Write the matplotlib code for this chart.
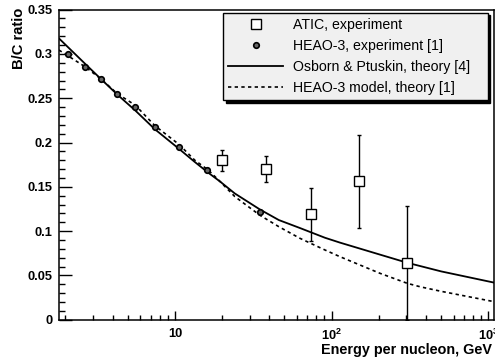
import numpy as np
import matplotlib
matplotlib.use('Agg')
import matplotlib.pyplot as plt
from matplotlib.lines import Line2D
from matplotlib.ticker import FixedLocator, LogLocator, MultipleLocator, FuncFormatter, NullFormatter

plt.rcParams['font.family'] = ['Liberation Sans', 'DejaVu Sans']
plt.rcParams['mathtext.fontset'] = 'custom'
plt.rcParams['mathtext.rm'] = 'Liberation Sans:bold'
plt.rcParams['mathtext.bf'] = 'Liberation Sans:bold'

# ATIC data
atic_e = [19.9, 38.3, 74.2, 148.6, 303]
atic_bc = [0.180, 0.170, 0.119, 0.156, 0.064]
atic_err = [0.012, 0.0145, 0.030, 0.053, 0.064]

# HEAO-3 data
heao_e = [2.07, 2.67, 3.36, 4.3, 5.6, 7.45, 10.6, 16.1, 34.8]
heao_bc = [0.300, 0.2856, 0.2717, 0.2544, 0.2404, 0.2171, 0.1953, 0.169, 0.1216]

# Osborn & Ptuskin theory curve
op_e = [1.82, 2.67, 3.36, 4.3, 5.6, 7.45, 10.6, 13.4, 16.3, 19.4, 24.1, 34.8, 46, 62.7, 90.6, 113,
        203, 303, 500, 1090]
op_bc = [0.3176, 0.289, 0.272, 0.254, 0.236, 0.215, 0.193, 0.178, 0.166, 0.156, 0.1425, 0.1245, 0.1125,
         0.1035, 0.0925, 0.087, 0.0735, 0.0643, 0.0545, 0.0418]

# HEAO-3 model curve
hm_e = [1.82, 2.67, 3.36, 4.3, 5.6, 7.45, 10.6, 13.4, 16.3, 19.4, 24.1, 34.8, 46, 62.7, 90.6, 113,
        203, 303, 366, 500, 1090]
hm_bc = [0.3044, 0.2856, 0.272, 0.255, 0.242, 0.219, 0.198, 0.180, 0.169, 0.156, 0.139, 0.118, 0.105,
         0.0919, 0.0787, 0.0711, 0.0524, 0.0411, 0.0372, 0.032, 0.0203]

fig = plt.figure(figsize=(4.95, 3.57), dpi=100)
ax = fig.add_axes([0.119, 0.1045, 0.8796, 0.8685])

ax.errorbar(atic_e, atic_bc, yerr=atic_err, fmt='s', ms=7, mfc='white', mec='black', mew=1.0,
            ecolor='black', elinewidth=1.0, capsize=1.5, capthick=0.8, zorder=4)
h_heao, = ax.plot(heao_e, heao_bc, 'o', ms=4, mfc='#666666', mec='black', mew=1.2, zorder=5)
h_op, = ax.plot(op_e, op_bc, 'k-', lw=1.3, zorder=3)
h_hm, = ax.plot(hm_e, hm_bc, 'k', lw=1.2, dashes=(2, 2), zorder=3)
# legend shows the square only
h_atic = Line2D([], [], ls='none', marker='s', ms=7, mfc='white', mec='black', mew=1.0)

ax.set_xscale('log')
ax.set_xlim(1.82, 1090)
ax.set_ylim(0, 0.35)

ax.xaxis.set_major_locator(FixedLocator([10, 100, 1000]))
ax.xaxis.set_major_formatter(FuncFormatter(lambda v, p: {10: '10', 100: r'$10^{2}$', 1000: r'$10^{3}$'}.get(int(round(v)), '')))
ax.xaxis.set_minor_locator(LogLocator(base=10, subs=np.arange(2, 10)))
ax.xaxis.set_minor_formatter(NullFormatter())
ax.yaxis.set_major_locator(MultipleLocator(0.05))
ax.yaxis.set_minor_locator(MultipleLocator(0.01))
ax.yaxis.set_major_formatter(FuncFormatter(lambda v, p: '%g' % round(v, 3)))

ax.tick_params(axis='x', which='major', direction='in', length=6.5, width=1.0, pad=6, labelsize=9.3)
ax.tick_params(axis='x', which='minor', direction='in', length=3.6, width=1.0)
ax.tick_params(axis='y', which='major', direction='in', length=9.5, width=1.0, pad=4.5, labelsize=9.3)
ax.tick_params(axis='y', which='minor', direction='in', length=4.5, width=1.0)
for lab in ax.get_xticklabels() + ax.get_yticklabels():
    lab.set_fontweight('bold')
for s in ax.spines.values():
    s.set_linewidth(1.1)

ax.set_xlabel('Energy per nucleon, GeV', fontsize=10.4, fontweight='bold', ha='right')
ax.xaxis.set_label_coords(0.995, -0.075)
ax.set_ylabel('B/C ratio', fontsize=10.6, fontweight='bold', loc='top')
ax.yaxis.set_label_coords(-0.076, 1.005)

leg = ax.legend([h_atic, h_heao, h_op, h_hm],
                ['ATIC, experiment', 'HEAO-3, experiment [1]', 'Osborn & Ptuskin, theory [4]',
                 'HEAO-3 model, theory [1]'],
                loc='upper left', bbox_to_anchor=(0.4505, 0.72, 0.5347, 0.2444),
                bbox_transform=fig.transFigure, mode='expand', fontsize=10.2,
                frameon=True, fancybox=False, framealpha=1, facecolor='#f0f0f0', edgecolor='black',
                shadow={'color': 'black', 'alpha': 1}, borderpad=0.35, labelspacing=0.5,
                handlelength=3.9, handletextpad=0.7, borderaxespad=0)
leg.get_frame().set_linewidth(1.0)

fig.savefig('out.png', dpi=100)
